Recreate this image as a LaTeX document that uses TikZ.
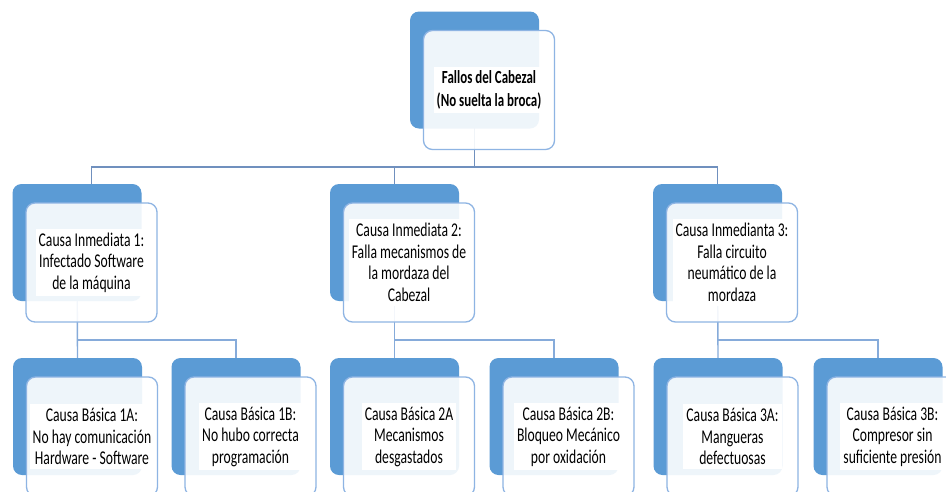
\documentclass[tikz,border=0pt]{standalone}
\usepackage{fontspec}
\setmainfont[FakeStretch=0.7]{Carlito}
\usetikzlibrary{calc,backgrounds}

\definecolor{backblue}{HTML}{5B9BD5}
\definecolor{edgeblue}{HTML}{8EB4E3}
\definecolor{linkblue}{HTML}{86ABDA}
\definecolor{toplink}{HTML}{7090BE}

\tikzset{
  backbox/.style={fill=backblue, draw=none, rounded corners=9pt,
    minimum width=129pt, minimum height=117pt, inner sep=0pt, outer sep=0pt},
  frontbox/.style={fill=white, fill opacity=0.9, draw=edgeblue, line width=1.3pt,
    rounded corners=9pt, minimum width=131pt, minimum height=119pt,
    inner sep=0pt, outer sep=0pt},
  label/.style={fill=white, text=black, align=center, inner xsep=3pt, inner ysep=4pt,
    font=\fontsize{19.5}{21.5}\selectfont},
  headlabel/.style={label, font=\fontsize{18.5}{22.5}\selectfont\bfseries},
  link/.style={draw=linkblue, line width=1.4pt},
  toplinkstyle/.style={draw=toplink, line width=1.4pt},
}

% one cause: dark back card, lighter card offset over it, text on top
\newcommand\causecard[4][label]{%
  \node[backbox] (#2b) at (#3) {};
  \node[frontbox] (#2f) at ($(#2b.center)+(14.5,20)$) {};
  \node[#1] (#2t) at (#2f.center) {#4};
}

\begin{document}
\begin{tikzpicture}[x=1pt,y=-1pt]
\clip (0,0) rectangle (946,491);

% head
\causecard[headlabel]{top}{474.5,70}{Fallos del Cabezal\\(No suelta la broca)}

% immediate causes
\causecard{ma}{77,242.5}{Causa Inmediata 1:\\Infectado Software\\de la máquina}
\causecard{mb}{394.5,242.5}{Causa Inmediata 2:\\Falla mecanismos de\\la mordaza del\\Cabezal}
\causecard{mc}{717.5,242.5}{Causa Inmedianta 3:\\Falla circuito\\neumático de la\\mordaza}

% basic causes
\causecard{ba}{77.5,416.5}{Causa Básica 1A:\\No hay comunicación\\Hardware - Software}
\causecard{bb}{236,416.5}{Causa Básica 1B:\\No hubo correcta\\programación}
\causecard{bc}{394.5,416.5}{Causa Básica 2A\\Mecanismos\\desgastados}
\causecard{bd}{554,416.5}{Causa Básica 2B:\\Bloqueo Mecánico\\por oxidación}
\causecard{be}{718,416.5}{Causa Básica 3A:\\Mangueras\\defectuosas}
\causecard{bf}{878,416.5}{Causa Básica 3B:\\Compresor sin\\suficiente presión}

% bus points of the tree
\coordinate (bus0) at (474.5,167);
\coordinate (bus1) at (77.5,340);
\coordinate (bus2) at (394.5,340);
\coordinate (bus3) at (718,340);

\begin{pgfonlayer}{background}
  \fill[white] (0,0) rectangle (946,491);

  \draw[toplinkstyle] (topb.center) -- (bus0);
  \draw[toplinkstyle] (maf.north) |- (bus0);
  \draw[toplinkstyle] (mbb.north) |- (bus0);
  \draw[toplinkstyle] (mcb.north) |- (bus0);

  \draw[link] (mab.center) -- (bab.north);
  \draw[link] (bbb.north) |- (bus1);
  \draw[link] (mbb.center) -- (bcb.north);
  \draw[link] (bdb.north) |- (bus2);
  \draw[link] (mcb.center) -- (beb.north);
  \draw[link] (bfb.north) |- (bus3);
\end{pgfonlayer}
\end{tikzpicture}
\end{document}
